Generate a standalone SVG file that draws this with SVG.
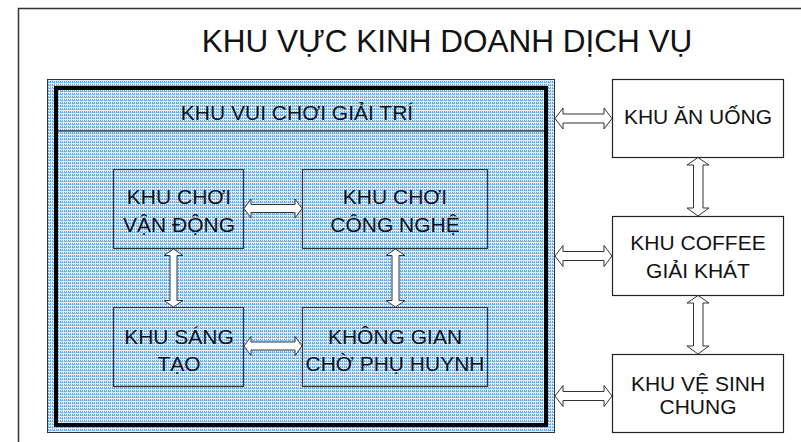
<svg xmlns="http://www.w3.org/2000/svg" width="801" height="442" viewBox="0 0 801 442">
<defs>
<pattern id="dots" x="0" y="0" width="4" height="3" patternUnits="userSpaceOnUse">
<rect width="4" height="3" fill="#dcebfc"/>
<rect x="0" y="0" width="4" height="1" fill="#ffffff"/>
<rect x="0" y="0" width="1" height="1" fill="#5aa5f2"/>
<rect x="2" y="0" width="1" height="1" fill="#5aa5f2"/>
<rect x="0" y="1" width="4" height="1" fill="#6cb0f4"/>
<rect x="3" y="1" width="1" height="1" fill="#c4e0fa"/>
</pattern>
</defs>
<style>
.t{font-family:"Liberation Sans",Arial,sans-serif;fill:#111;text-anchor:middle}
.box{fill:none;stroke:#333;stroke-width:1.2}
.wbox{fill:#fff;stroke:#222;stroke-width:1.2}
.arr{fill:#fff;stroke:#333;stroke-width:1}
</style>
<rect x="0" y="0" width="801" height="442" fill="#fff"/>
<g id="frame">
<rect x="18.5" y="8.5" width="800" height="450" fill="none" stroke="#333" stroke-width="1.5"/>
<text class="t" x="447" y="52" font-size="31.5">KHU VỰC KINH DOANH DỊCH VỤ</text>
</g>
<g id="khu-vui-choi">
<rect x="47.5" y="79.5" width="507" height="353" fill="url(#dots)" stroke="#333" stroke-width="1"/>
<rect x="56" y="88" width="490" height="337" fill="none" stroke="#000" stroke-width="4"/>
<line x1="56" y1="131" x2="546" y2="131" stroke="#000" stroke-width="1.2"/>
<text class="t" x="297" y="120" font-size="21">KHU VUI CHƠI GIẢI TRÍ</text>
</g>
<g id="van-dong">
<rect class="box" x="113.5" y="169.5" width="130" height="79"/>
<text class="t" x="179" y="204" font-size="21">KHU CHƠI</text>
<text class="t" x="179" y="232" font-size="21">VẬN ĐỘNG</text>
</g>
<g id="cong-nghe">
<rect class="box" x="302.5" y="169.5" width="185" height="79"/>
<text class="t" x="395" y="204" font-size="21">KHU CHƠI</text>
<text class="t" x="395" y="232" font-size="21">CÔNG NGHỆ</text>
</g>
<g id="sang-tao">
<rect class="box" x="113.5" y="307.5" width="130" height="79"/>
<text class="t" x="179" y="344" font-size="21">KHU SÁNG</text>
<text class="t" x="179" y="371" font-size="21">TẠO</text>
</g>
<g id="khong-gian">
<rect class="box" x="302.5" y="307.5" width="185" height="79"/>
<text class="t" x="395" y="344" font-size="21">KHÔNG GIAN</text>
<text class="t" x="395" y="371" font-size="21">CHỜ PHỤ HUYNH</text>
</g>
<g id="an-uong">
<rect class="wbox" x="612.5" y="79.5" width="171" height="78"/>
<text class="t" x="698" y="124" font-size="21">KHU ĂN UỐNG</text>
</g>
<g id="coffee">
<rect class="wbox" x="612.5" y="216.5" width="171" height="79"/>
<text class="t" x="698" y="250" font-size="21">KHU COFFEE</text>
<text class="t" x="698" y="278" font-size="21">GIẢI KHÁT</text>
</g>
<g id="ve-sinh">
<rect class="wbox" x="612.5" y="354.5" width="171" height="78"/>
<text class="t" x="698" y="391" font-size="21">KHU VỆ SINH</text>
<text class="t" x="698" y="414" font-size="21">CHUNG</text>
</g>
<g id="connectors">
<path class="arr" d="M244,208.5 L251,199 L251,204.5 L295,204.5 L295,199 L302,208.5 L295,218 L295,212.5 L251,212.5 L251,218 Z"/>
<path class="arr" d="M244,346 L251,336.5 L251,342 L295,342 L295,336.5 L302,346 L295,355.5 L295,350 L251,350 L251,355.5 Z"/>
<path class="arr" d="M173.5,249 L183,255.5 L177,255.5 L177,300.5 L183,300.5 L173.5,307 L164,300.5 L170,300.5 L170,255.5 L164,255.5 Z"/>
<path class="arr" d="M395.5,249 L405,255.5 L399,255.5 L399,300.5 L405,300.5 L395.5,307 L386,300.5 L392,300.5 L392,255.5 L386,255.5 Z"/>
<path class="arr" d="M555,118.5 L563,108 L563,114 L604,114 L604,108 L612,118.5 L604,129 L604,123 L563,123 L563,129 Z"/>
<path class="arr" d="M555,256 L563,245.5 L563,251.5 L604,251.5 L604,245.5 L612,256 L604,266.5 L604,260.5 L563,260.5 L563,266.5 Z"/>
<path class="arr" d="M555,396 L563,385.5 L563,391.5 L604,391.5 L604,385.5 L612,396 L604,406.5 L604,400.5 L563,400.5 L563,406.5 Z"/>
<path class="arr" d="M698,157.5 L709,165 L703,165 L703,208 L709,208 L698,216 L687,208 L693.5,208 L693.5,165 L687,165 Z"/>
<path class="arr" d="M698,295.5 L709,303 L703,303 L703,346 L709,346 L698,354 L687,346 L693.5,346 L693.5,303 L687,303 Z"/>
</g>
</svg>
